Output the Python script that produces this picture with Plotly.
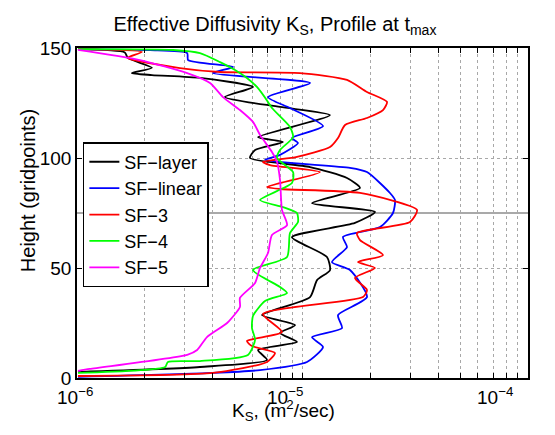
import numpy as np
import plotly.graph_objects as go

# diffusivity profiles, K in units of 1e-6 m^2/s, height in gridpoints
h_layer = [149.5, 148.0, 145.5, 141.0, 138.6, 137.7, 136.4, 132.3, 127.7, 123.2, 119.5,
           109.5, 107.3, 103.6, 100.0, 95.9, 90.9, 86.4, 79.5, 75.5, 70.5, 64.0, 55.0,
           49.0, 44.5, 36.8, 28.6, 24.0, 20.5, 16.4, 12.7, 8.2, 5.0, 2.7]
k_layer = [1.01, 1.63, 1.68, 2.15, 1.75, 2.15, 3.51, 6.03, 4.53, 7.95, 13.24,
           6.35, 8.19, 6.16, 5.85, 10.80, 15.75, 17.99, 11.02, 20.96, 17.09, 8.98, 12.84,
           13.24, 11.60, 10.80, 6.61, 9.26, 7.95, 9.45, 6.35, 6.96, 3.51, 1.01]

h_linear = [149.5, 149.0, 147.7, 144.5, 141.4, 138.6, 134.1, 127.7, 122.7, 114.5, 109.1,
            106.8, 101.4, 99.1, 95.5, 93.6, 84.1, 80.9, 75.0, 68.6, 64.1, 59.5, 52.7,
            49.1, 36.8, 28.6, 22.7, 18.6, 14.1, 7.3, 3.6, 2.3, 0.5]
k_linear = [1.01, 2.11, 3.08, 3.11, 4.92, 4.01, 10.80, 7.03, 8.80, 12.33, 8.98,
            9.55, 7.95, 6.82, 16.24, 19.32, 24.43, 25.71, 25.19, 22.07, 15.12, 15.75, 13.51,
            16.24, 19.32, 14.37, 14.97, 11.02, 12.33, 10.47, 6.48, 4.01, 1.01]

h_sf3 = [149.5, 148.2, 145.5, 140.9, 139.1, 138.6, 135.5, 130.0, 125.5, 121.8, 118.2,
         115.0, 109.1, 105.0, 100.5, 98.2, 96.8, 93.6, 86.8, 85.9, 84.1, 76.4, 70.9,
         65.9, 62.7, 55.9, 52.7, 50.0, 45.5, 40.0, 36.8, 29.1, 20.9, 16.8, 14.5,
         11.4, 7.3, 2.3, 0.9]
k_sf3 = [1.01, 1.94, 1.67, 2.86, 4.31, 9.75, 15.75, 19.32, 23.70, 22.75, 19.32,
         15.44, 14.37, 13.24, 9.45, 6.68, 7.18, 11.96, 6.96, 7.95, 17.99, 32.19, 29.98,
         17.44, 17.99, 22.75, 17.62, 20.96, 17.09, 19.32, 18.55, 6.68, 8.11, 5.67, 5.97,
         7.55, 6.96, 4.01, 1.01]

h_sf4 = [149.5, 149.1, 147.7, 143.6, 140.0, 136.4, 132.3, 125.5, 122.7, 114.1, 109.5,
         103.6, 100.0, 93.6, 88.6, 80.9, 77.7, 75.0, 70.9, 65.9, 55.0, 49.1, 41.4,
         38.6, 35.0, 28.2, 22.7, 17.3, 10.5, 7.7, 7.3, 5.0, 2.3]
k_sf4 = [1.01, 2.67, 3.51, 4.31, 5.02, 5.67, 6.28, 7.03, 7.32, 8.80, 9.08,
         7.95, 7.71, 9.08, 8.98, 6.48, 8.19, 9.45, 9.55, 8.80, 8.54, 6.03, 7.95,
         8.54, 6.82, 6.03, 5.97, 6.16, 5.73, 3.51, 2.53, 2.46, 1.01]

h_sf5 = [149.1, 144.5, 138.6, 134.1, 127.7, 121.8, 116.4, 110.5, 102.7, 98.2, 90.0,
         76.4, 69.5, 65.0, 56.8, 50.0, 43.2, 36.4, 32.3, 25.0, 18.6, 12.7, 10.5,
         4.1, 3.2]
k_sf5 = [1.01, 1.90, 3.08, 3.89, 4.44, 5.28, 6.03, 6.48, 7.32, 7.71, 7.95,
         8.11, 8.54, 7.32, 7.03, 6.48, 6.16, 5.28, 5.28, 4.63, 3.77, 3.41, 3.08,
         1.14, 1.01]

series = [
    ("SF−layer", h_layer, k_layer, "#000000"),
    ("SF−linear", h_linear, k_linear, "#0000ff"),
    ("SF−3", h_sf3, k_sf3, "#ff0000"),
    ("SF−4", h_sf4, k_sf4, "#00ff00"),
    ("SF−5", h_sf5, k_sf5, "#ff00ff"),
]

decade_labels = ["10<sup>−6</sup>", "10<sup>−5</sup>", "10<sup>−4</sup>"]
decade_label_pos = [-0.004, 0.461, 0.927]   # MATLAB-style offsets of the decade labels

fig = go.Figure()
for name, h, k, col in series:
    fig.add_trace(go.Scatter(
        x=np.array(k) * 1e-6, y=h, mode="lines", name=name,
        line=dict(color=col, width=1.8, shape="spline", smoothing=0.6),
    ))

# reference height line
fig.add_shape(type="line", xref="x", yref="y", x0=1e-6, x1=1e-4, y0=75, y1=75,
              line=dict(color="#555555", width=1.2), layer="below")

xticks = [m * d for d in [1e-6, 1e-5] for m in range(1, 10)] + [1e-4]

for txt, px in zip(decade_labels, decade_label_pos):
    fig.add_annotation(text=txt, xref="paper", yref="paper", x=px, y=-0.012,
                       xanchor="center", yanchor="top", showarrow=False,
                       font=dict(size=19, color="black"))

# axis titles as annotations (MATLAB places them off-centre)
fig.add_annotation(text="K<sub>S</sub>, (m<sup>2</sup>/sec)", xref="paper", yref="paper",
                   x=0.457, y=-0.05, xanchor="center", yanchor="top", showarrow=False,
                   font=dict(size=19, color="black"))
fig.add_annotation(text="Height (gridpoints)", xref="paper", yref="paper",
                   x=-0.108, y=0.567, xanchor="center", yanchor="middle", textangle=-90,
                   showarrow=False, font=dict(size=20, color="black"))

axis_common = dict(showline=True, linecolor="black", linewidth=1.5, mirror="ticks",
                   ticks="inside", ticklen=5, tickcolor="black",
                   gridcolor="#a8a8a8", griddash="dot", gridwidth=1, zeroline=False,
                   tickfont=dict(size=19, color="black"))

fig.update_xaxes(type="log", range=[-6, -4], tickvals=xticks, showticklabels=False,
                 **axis_common)
fig.update_yaxes(range=[0, 150], tickvals=[0, 50, 100, 150], **axis_common)

fig.update_layout(
    width=547, height=427,
    margin=dict(l=69, r=27, t=40, b=57),
    paper_bgcolor="white", plot_bgcolor="white",
    font=dict(family="Liberation Sans, Arial, sans-serif", color="black"),
    title=dict(text="Effective Diffusivity K<sub>S</sub>, Profile at t<sub>max</sub>",
               x=0.488, xanchor="center", y=0.98, yanchor="top", font=dict(size=20)),
    showlegend=True,
    legend=dict(x=0.013, y=0.715, xanchor="left", yanchor="top",
                bgcolor="white", bordercolor="black", borderwidth=1.5,
                font=dict(size=18), itemwidth=30, tracegroupgap=0),
)

fig.write_html("out.html")
